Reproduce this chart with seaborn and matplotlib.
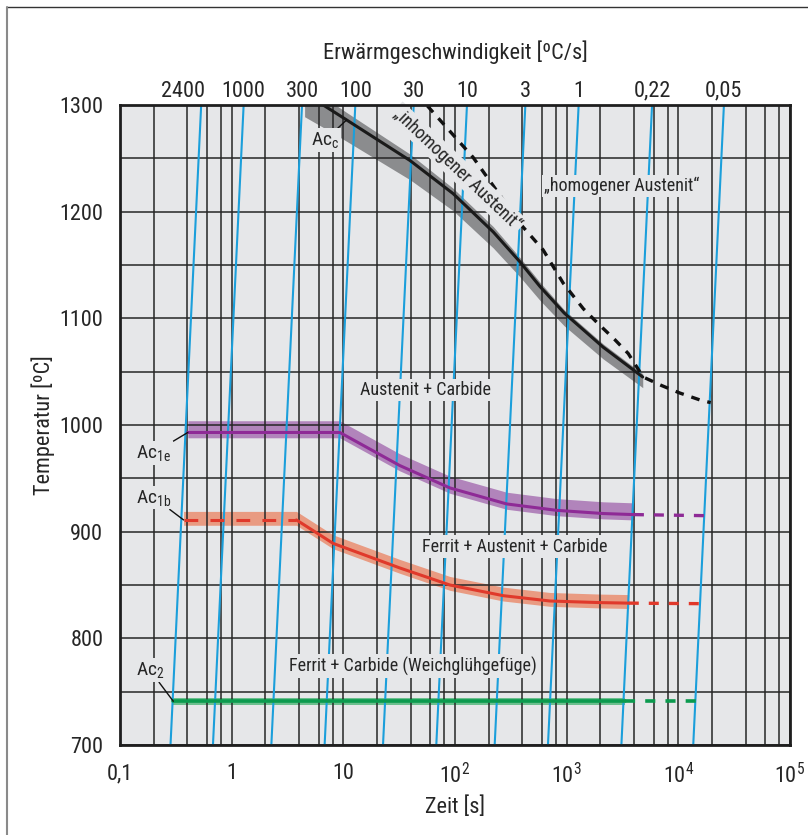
import numpy as np
import pandas as pd
import seaborn as sns
import matplotlib
matplotlib.use("Agg")
import matplotlib.pyplot as plt
from matplotlib import font_manager as fm
from matplotlib.lines import Line2D
import matplotlib.transforms as mtransforms

# ---------------- data ----------------
rates = [2400, 1000, 300, 100, 30, 10, 3, 1, 0.22, 0.05]
rate_labels = ["2400", "1000", "300", "100", "30", "10", "3", "1", "0,22", "0,05"]
iso_T = [700, 1300]

acc_t = [4.5, 6.6, 10.7, 39.5, 96, 220, 381, 575, 950, 2120, 4800]
acc_T = [1311, 1300, 1286, 1248, 1217, 1181, 1153, 1130, 1105, 1073, 1045]
acc_hi = [8, 8, 7, 6, 5, 5, 4, 4, 3, 3, 3]
acc_lo = [22, 21, 20, 18, 16, 15, 14, 13, 12, 11, 10]

homo_t = [45, 55.7, 145, 381, 617, 931, 1410, 1915, 2700, 3560, 4840, 7080, 10300, 16100, 19500]
homo_T = [1311, 1300, 1251, 1189, 1164, 1133, 1109, 1095, 1080, 1067, 1045, 1037, 1030, 1023, 1021]

e_t = [0.405, 9.3, 32, 90, 290, 813, 2124, 4000]
e_T = [993, 993, 962, 941, 926, 920, 917, 916]
e_dash_t = [4000, 17500]
e_dash_T = [916, 915]

b_flat_t = [0.371, 3.8]
b_flat_T = [911, 911]
b_t = [3.8, 8.1, 32, 90, 270, 708, 1982, 3600]
b_T = [911, 889, 866, 850, 840, 835, 833.5, 833]
b_dash_t = [3600, 16000]
b_dash_T = [833, 832.5]

g_t = [0.30, 3300]
g_T = [741, 741]
g_dash_t = [3300, 14400]
g_dash_T = [741, 741]

x_ticks = [0.1, 1, 10, 100, 1000, 1e4, 1e5]
x_ticklabels = ["0,1", "1", "10", r"$\mathregular{10^2}$", r"$\mathregular{10^3}$",
                r"$\mathregular{10^4}$", r"$\mathregular{10^5}$"]
y_ticks = [700, 800, 900, 1000, 1100, 1200, 1300]

# ---------------- style ----------------
sns.set_theme(style="white")
avail = {f.name for f in fm.fontManager.ttflist}
cands = ["Roboto Condensed", "Liberation Sans Narrow", "Liberation Sans", "DejaVu Sans"]
fam = [c for c in cands if c in avail]
plt.rcParams["font.family"] = fam + ["DejaVu Sans"]
plt.rcParams["mathtext.fontset"] = "custom"
plt.rcParams["mathtext.rm"] = fam[0]
plt.rcParams["mathtext.it"] = fam[0]

BG = "#e6e7e9"
GRID = "#262626"
BLUE = "#1b9fdb"

fig = plt.figure(figsize=(8.08, 8.35), dpi=100)
ax = fig.add_axes([120 / 808, 90 / 835, 670 / 808, 640 / 835])
ax.set_facecolor(BG)
ax.set_xscale("log")
ax.set_xlim(0.1, 1e5)
ax.set_ylim(700, 1300)

# bands
ax.fill_between(acc_t, np.array(acc_T) - np.array(acc_lo), np.array(acc_T) + np.array(acc_hi),
                color="#8b8c8e", lw=0, zorder=1)
ax.fill_between(e_t, np.array(e_T) - 5, np.array(e_T) + 11, color="#b184bb", lw=0, zorder=1)
bb_t = b_flat_t[:1] + b_t
bb_T = np.array(b_flat_T[:1] + b_T)
ax.fill_between(bb_t, bb_T - 5, bb_T + 8, color="#e99b82", lw=0, zorder=1)
ax.fill_between(g_t, np.array(g_T) - 3.5, np.array(g_T) + 3.5, color="#6cbf8e", lw=0, zorder=1)

# isolines of heating rate
for r in rates:
    tt = (np.array(iso_T) - 20) / r
    sns.lineplot(x=tt, y=iso_T, ax=ax, color=BLUE, lw=1.5, estimator=None, sort=False,
                 legend=False, zorder=1.8)

# curves
def line(x, y, color, lw, ls="-", z=2.5):
    sns.lineplot(x=x, y=y, ax=ax, color=color, lw=lw, linestyle=ls, estimator=None,
                 sort=False, legend=False, zorder=z)

line(acc_t, acc_T, "#1a1a1a", 2.2)
line(homo_t, homo_T, "#111111", 2.4, (0, (2.6, 2.4)))
line(e_t, e_T, "#8e2a96", 2.2)
line(e_dash_t, e_dash_T, "#8e2a96", 2.4, (0, (3.0, 3.0)))
line(b_flat_t, b_flat_T, "#e0392b", 2.2, (0, (4.5, 4.0)))
line(b_t, b_T, "#e0392b", 2.2)
line(b_dash_t, b_dash_T, "#e0392b", 2.4, (0, (3.0, 3.0)))
line(g_t, g_T, "#0b9a4e", 2.6)
line(g_dash_t, g_dash_T, "#0b9a4e", 2.6, (0, (2.8, 2.8)))

# grid / ticks
ax.set_xticks(x_ticks)
ax.set_xticklabels(x_ticklabels)
minor = [m * d for d in [0.1, 1, 10, 100, 1000, 1e4] for m in (2, 4, 6, 8)]
ax.set_xticks(minor, minor=True)
ax.set_xticklabels([], minor=True)
ax.set_yticks(y_ticks)
ax.set_yticks([750, 850, 950, 1050, 1150, 1250], minor=True)
ax.set_axisbelow("line")
ax.grid(True, which="both", color=GRID, lw=1.1)
for gl in ax.get_xgridlines() + ax.get_ygridlines():
    gl.set_zorder(1.5)
ax.tick_params(which="both", length=0, labelsize=16, pad=12)
ax.tick_params(axis="x", pad=13)
for s in ax.spines.values():
    s.set_linewidth(2.0)
    s.set_color("#1e1e1e")
    s.set_zorder(5)
ax.set_xlabel("Zeit [s]", fontsize=16, labelpad=6)
ax.set_ylabel("Temperatur [ºC]", fontsize=16, labelpad=3)

# top axis (heating rate labels)
trans = mtransforms.blended_transform_factory(ax.transData, ax.transAxes)
for r, lab in zip(rates, rate_labels):
    tt = (1300 - 20) / r
    dx = -13 if lab == "2400" else 0
    ax.annotate(lab, xy=(tt, 1.0), xycoords=trans, xytext=(dx, 10), textcoords="offset points",
                ha="center", va="center", fontsize=16, annotation_clip=False)
ax.annotate("Erwärmgeschwindigkeit [ºC/s]", xy=(0.5, 1.0), xycoords="axes fraction",
            xytext=(0, 38), textcoords="offset points", ha="center", va="center", fontsize=16)

# region labels
box = dict(boxstyle="square,pad=0.12", fc=BG, ec="none")
txt_kw = dict(fontsize=13, ha="center", va="center", zorder=4, bbox=box)
ax.text(105, 1240, "„inhomogener Austenit“", rotation=-43.5, rotation_mode="anchor", **txt_kw)
ax.text(3120, 1224, "„homogener Austenit“", **txt_kw)
ax.text(54, 1033, "Austenit + Carbide", **txt_kw)
ax.text(343, 886, "Ferrit + Austenit + Carbide", **txt_kw)
ax.text(42, 774, "Ferrit + Carbide (Weichglühgefüge)", **txt_kw)

# Ac labels with leader lines
lab_box = dict(boxstyle="square,pad=0.1", fc=BG, ec="none")
arrow = dict(arrowstyle="-", lw=1.0, color="#111111", shrinkA=0, shrinkB=0)
ac_kw = dict(fontsize=14, ha="center", va="center", zorder=4, bbox=lab_box, arrowprops=arrow)
ax.annotate(r"Ac$_\mathregular{c}$", xy=(10.7, 1286), xytext=(6.84, 1267), **ac_kw)
ax.annotate(r"Ac$_\mathregular{1e}$", xy=(e_t[0], e_T[0]), xytext=(0.2015, 974), **ac_kw)
ax.annotate(r"Ac$_\mathregular{1b}$", xy=(b_flat_t[0], b_flat_T[0]), xytext=(0.2015, 932), **ac_kw)
ax.annotate(r"Ac$_\mathregular{2}$", xy=(g_t[0], g_T[0]), xytext=(0.186, 770), **ac_kw)

# figure frame (top and left)
fig.add_artist(Line2D([7 / 808, 1.0], [1 - 7 / 835, 1 - 7 / 835], transform=fig.transFigure,
                      color="#333333", lw=1.0))
fig.add_artist(Line2D([7 / 808, 7 / 808], [0, 1 - 7 / 835], transform=fig.transFigure,
                      color="#8a8a8a", lw=1.5))

fig.savefig("out.png", dpi=100)
